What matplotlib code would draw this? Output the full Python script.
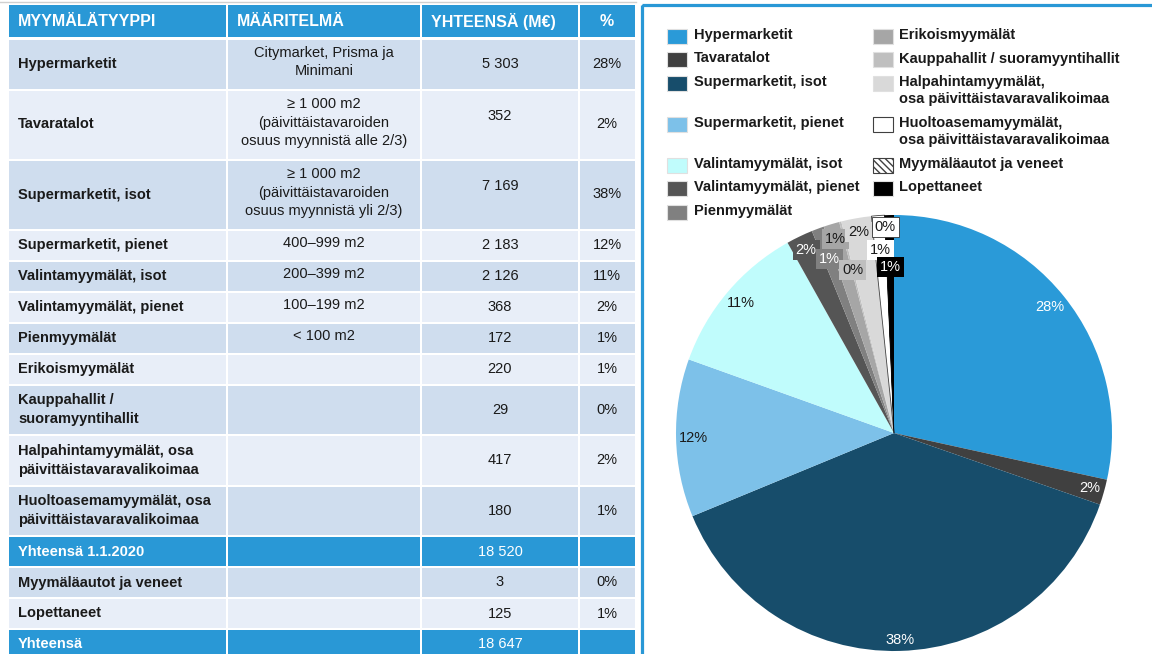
import matplotlib
matplotlib.use('Agg')
import matplotlib.pyplot as plt
from matplotlib.patches import Rectangle
import numpy as np

plt.rcParams['font.family'] = ['Liberation Sans', 'DejaVu Sans']

# --- data ---
tyypit = ["Hypermarketit", "Tavaratalot", "Supermarketit, isot", "Supermarketit, pienet",
          "Valintamyymälät, isot", "Valintamyymälät, pienet", "Pienmyymälät", "Erikoismyymälät",
          "Kauppahallit /\nsuoramyyntihallit", "Halpahintamyymälät, osa\npäivittäistavaravalikoimaa",
          "Huoltoasemamyymälät, osa\npäivittäistavaravalikoimaa", "Myymäläautot ja veneet", "Lopettaneet"]
selitteet = ["Hypermarketit", "Tavaratalot", "Supermarketit, isot", "Supermarketit, pienet",
             "Valintamyymälät, isot", "Valintamyymälät, pienet", "Pienmyymälät", "Erikoismyymälät",
             "Kauppahallit / suoramyyntihallit", "Halpahintamyymälät,\nosa päivittäistavaravalikoimaa",
             "Huoltoasemamyymälät,\nosa päivittäistavaravalikoimaa", "Myymäläautot ja veneet", "Lopettaneet"]
maaritelmat = ["Citymarket, Prisma ja\nMinimani",
               "≥ 1 000 m2\n(päivittäistavaroiden\nosuus myynnistä alle 2/3)",
               "≥ 1 000 m2\n(päivittäistavaroiden\nosuus myynnistä yli 2/3)",
               "400–999 m2", "200–399 m2", "100–199 m2", "< 100 m2", "", "", "", "", "", ""]
myynti = [5303, 352, 7169, 2183, 2126, 368, 172, 220, 29, 417, 180, 3, 125]
osuus = [28, 2, 38, 12, 11, 2, 1, 1, 0, 2, 1, 0, 1]
otsikot = ["MYYMÄLÄTYYPPI", "MÄÄRITELMÄ", "YHTEENSÄ (M€)", "%"]
yhteensa_2020 = 18520
yhteensa = 18647

# --- style ---
varit = ['#2a9ad8', '#404040', '#174d6b', '#7dc1e9', '#c0fcfc', '#555555', '#808080',
         '#a6a6a6', '#bfbfbf', '#d9d9d9', '#ffffff', '#ffffff', '#000000']
tekstivarit = ['white', 'white', 'white', '#1a1a1a', '#1a1a1a', 'white', 'white',
               '#1a1a1a', '#1a1a1a', '#1a1a1a', '#1a1a1a', '#1a1a1a', 'white']
label_r = [0.92, 0.935, 0.95, 0.92, 0.92, 0.93, 0.85, 0.93, 0.77, 0.935, 0.84, 0.945, 0.76]
SININEN = '#2998d6'
TUMMA = '#cfddee'
VAALEA = '#e8eef8'
FS = 10.5


def fmt(v):
    return f"{v:,}".replace(",", " ")


fig = plt.figure(figsize=(11.52, 6.54), dpi=100)
ax = fig.add_axes([0, 0, 1, 1])
ax.set_xlim(0, 1152)
ax.set_ylim(654, 0)
ax.axis('off')

# --- taulukko ---
sarakkeet = [8, 227, 421, 579, 636]
ax.plot([0, 636], [2, 2], color='#d0d0d0', lw=1)

rivit = []
for i in range(11):
    rivit.append((tyypit[i], maaritelmat[i], fmt(myynti[i]), f"{osuus[i]}%", i % 2 == 0, False))
rivit.append(("Yhteensä 1.1.2020", "", fmt(yhteensa_2020), "", None, True))
for i in range(11, 13):
    rivit.append((tyypit[i], maaritelmat[i], fmt(myynti[i]), f"{osuus[i]}%", i % 2 == 1, False))
rivit.append(("Yhteensä", "", fmt(yhteensa), "", None, True))


def solut(y0, h, vari):
    for c in range(4):
        ax.add_patch(Rectangle((sarakkeet[c] + 1, y0), sarakkeet[c + 1] - sarakkeet[c] - 2, h,
                               facecolor=vari, edgecolor='none'))


# otsikkorivi
solut(5, 32, SININEN)
for c, t in enumerate(otsikot):
    if c == 3:
        ax.text(607, 21, t, color='white', fontsize=11.5, fontweight='bold', ha='center', va='center')
    else:
        ax.text(sarakkeet[c] + 10, 21, t, color='white', fontsize=11.5, fontweight='bold',
                ha='left', va='center')

y = 40
for nimi, maar, arvo, pros, tumma, summa in rivit:
    rivimaara = max(nimi.count("\n"), maar.count("\n")) + 1
    h = 29 + 19.5 * (rivimaara - 1)
    vari = SININEN if summa else (TUMMA if tumma else VAALEA)
    solut(y, h, vari)
    yc = y + h / 2
    tv = 'white' if summa else '#1a1a1a'
    ax.text(18, yc, nimi, color=tv, fontsize=FS, fontweight='bold', ha='left', va='center',
            linespacing=1.45)
    ax.text(324, yc - 2, maar, color=tv, fontsize=FS, ha='center', va='center', linespacing=1.4)
    ax.text(500, yc - (9 if rivimaara == 3 else 0), arvo, color=tv, fontsize=FS,
            ha='center', va='center')
    ax.text(607, yc, pros, color=tv, fontsize=FS, ha='center', va='center')
    y += h + 2

# --- oikean paneelin kehys ---
ax.add_patch(Rectangle((641.5, 4.5), 600, 700, fill=False, edgecolor=SININEN, lw=2.3))

# --- selite (kaksi saraketta, rivit tasattu) ---
vasen = list(range(7))
oikea = list(range(7, 13))
ly = 36
for r in range(7):
    idxs = [(vasen[r], 667, 694)]
    if r < len(oikea):
        idxs.append((oikea[r], 873, 899))
    maxrivit = 1
    for i, sx, tx in idxs:
        hatch = '\\\\\\\\\\' if i == 11 else None
        ec = '#404040' if i in (10, 11) else '#e0e0e0'
        ax.add_patch(Rectangle((sx, ly - 7.5), 20, 15, facecolor=varit[i], edgecolor=ec,
                               lw=0.8, hatch=hatch))
        ax.text(tx, ly - 8, selitteet[i], fontsize=FS, fontweight='bold', color='#1a1a1a',
                ha='left', va='top', linespacing=1.25)
        maxrivit = max(maxrivit, selitteet[i].count("\n") + 1)
    ly += 23.5 + 17.5 * (maxrivit - 1)

# --- piirakka ---
axp = fig.add_axes([676 / 1152, 3 / 654, 436 / 1152, 436 / 654])
wedges, _ = axp.pie(myynti, colors=varit, startangle=90, counterclock=False, radius=1,
                    wedgeprops=dict(linewidth=0))
wedges[10].set_edgecolor('#404040')
wedges[10].set_linewidth(0.6)
wedges[11].set_hatch('\\\\\\\\\\')
wedges[11].set_edgecolor('black')
wedges[11].set_linewidth(0.3)
axp.set_xlim(-1, 1)
axp.set_ylim(-1, 1)
axp.axis('off')

for i, w in enumerate(wedges):
    th = np.deg2rad((w.theta1 + w.theta2) / 2)
    x, yv = label_r[i] * np.cos(th), label_r[i] * np.sin(th)
    bb = None
    if i >= 5:
        bb = dict(boxstyle='square,pad=0.2', facecolor=varit[i], edgecolor='none')
    if i == 11:
        bb = dict(boxstyle='square,pad=0.2', facecolor='white', edgecolor='#333333', lw=0.6)
    axp.text(x, yv, f"{osuus[i]}%", fontsize=FS, color=tekstivarit[i], ha='center', va='center',
             bbox=bb)

fig.savefig('out.png', dpi=100)
